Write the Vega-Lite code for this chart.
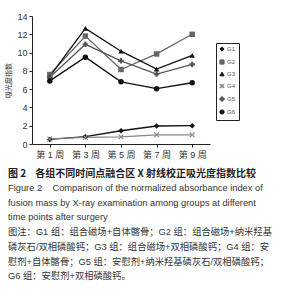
{
  "$schema": "https://vega.github.io/schema/vega-lite/v6.json",
  "width": 178,
  "height": 128,
  "autosize": {"type": "none"},
  "padding": {"left": 32, "top": 16, "right": 93, "bottom": 156},
  "background": "white",
  "config": {
    "view": {"stroke": null},
    "axis": {"grid": false, "domainColor": "#222", "tickColor": "#222", "labelColor": "#333", "labelFont": "Liberation Sans, Noto Sans CJK SC", "labelFontSize": 9, "tickSize": 3},
    "legend": {"rowPadding": 3, "labelFontSize": 6, "symbolSize": 18, "padding": 3, "labelOffset": 2}
  },
  "title": {
    "text": "图 2\u00a0\u00a0\u00a0\u00a0各组不同时间点融合区 X 射线校正吸光度指数比较",
    "orient": "bottom",
    "anchor": "start",
    "frame": "group",
    "align": "left",
    "dx": -24,
    "offset": 10,
    "font": "Noto Sans CJK SC",
    "fontSize": 10,
    "fontWeight": "bold",
    "color": "#222",
    "subtitle": [
      "Figure 2\u00a0\u00a0\u00a0\u00a0Comparison of the normalized absorbance index of",
      "fusion mass by X-ray examination among groups at different",
      "time points after surgery",
      "图注：G1 组：组合磁场+自体髂骨；G2 组：组合磁场+纳米羟基",
      "磷灰石/双相磷酸钙；G3 组：组合磁场+双相磷酸钙；G4 组：安",
      "慰剂+自体髂骨；G5 组：安慰剂+纳米羟基磷灰石/双相磷酸钙；",
      "G6 组：安慰剂+双相磷酸钙。"
    ],
    "subtitleFont": "Liberation Sans, Noto Sans CJK SC",
    "subtitleFontSize": 9.3,
    "subtitleColor": "#333",
    "subtitleLineHeight": 14.7,
    "subtitlePadding": 5
  },
  "data": {
    "values": [
      {"week": "第 1 周", "group": "G1", "value": 0.5},
      {"week": "第 3 周", "group": "G1", "value": 0.8},
      {"week": "第 5 周", "group": "G1", "value": 1.45},
      {"week": "第 7 周", "group": "G1", "value": 1.97},
      {"week": "第 9 周", "group": "G1", "value": 2.0},
      {"week": "第 1 周", "group": "G2", "value": 7.6},
      {"week": "第 3 周", "group": "G2", "value": 11.8},
      {"week": "第 5 周", "group": "G2", "value": 8.15},
      {"week": "第 7 周", "group": "G2", "value": 9.85},
      {"week": "第 9 周", "group": "G2", "value": 12.0},
      {"week": "第 1 周", "group": "G3", "value": 7.4},
      {"week": "第 3 周", "group": "G3", "value": 12.65},
      {"week": "第 5 周", "group": "G3", "value": 10.15},
      {"week": "第 7 周", "group": "G3", "value": 8.2},
      {"week": "第 9 周", "group": "G3", "value": 9.7},
      {"week": "第 1 周", "group": "G4", "value": 0.55},
      {"week": "第 3 周", "group": "G4", "value": 0.72},
      {"week": "第 5 周", "group": "G4", "value": 0.78},
      {"week": "第 7 周", "group": "G4", "value": 1.0},
      {"week": "第 9 周", "group": "G4", "value": 1.0},
      {"week": "第 1 周", "group": "G5", "value": 7.3},
      {"week": "第 3 周", "group": "G5", "value": 10.9},
      {"week": "第 5 周", "group": "G5", "value": 9.1},
      {"week": "第 7 周", "group": "G5", "value": 7.65},
      {"week": "第 9 周", "group": "G5", "value": 8.7},
      {"week": "第 1 周", "group": "G6", "value": 6.9},
      {"week": "第 3 周", "group": "G6", "value": 9.5},
      {"week": "第 5 周", "group": "G6", "value": 6.8},
      {"week": "第 7 周", "group": "G6", "value": 6.05},
      {"week": "第 9 周", "group": "G6", "value": 6.7}
    ]
  },
  "encoding": {
    "x": {
      "field": "week", "type": "ordinal",
      "sort": ["第 1 周", "第 3 周", "第 5 周", "第 7 周", "第 9 周"],
      "scale": {"type": "point", "padding": 0.5},
      "axis": {"title": null, "labelAngle": 0, "labelPadding": 3}
    },
    "y": {
      "field": "value", "type": "quantitative",
      "scale": {"domain": [0, 14], "nice": false},
      "axis": {"values": [0, 2, 4, 6, 8, 10, 12, 14], "title": "吸光度指数", "titleFont": "Noto Sans CJK SC", "titleFontSize": 7, "titleFontWeight": "normal", "titleColor": "#333", "titlePadding": 5, "labelPadding": 2}
    },
    "color": {
      "field": "group", "type": "nominal",
      "scale": {"domain": ["G1", "G2", "G3", "G4", "G5", "G6"], "range": ["#111111", "#666666", "#111111", "#888888", "#555555", "#111111"]},
      "legend": {
        "orient": "none", "legendX": 184, "legendY": 27,
        "title": null, "strokeColor": "#222", "padding": 3,
        "labelFontSize": 6, "labelColor": "#555", "symbolSize": 18, "rowPadding": 3,
        "labelOffset": 2, "symbolStrokeWidth": 1
      }
    }
  },
  "layer": [
    {"mark": {"type": "line", "strokeWidth": 1.3}},
    {
      "mark": {"type": "point", "filled": true, "opacity": 1, "size": 30},
      "encoding": {
        "shape": {
          "field": "group", "type": "nominal",
          "scale": {"domain": ["G1", "G2", "G3", "G4", "G5", "G6"], "range": ["diamond", "square", "triangle-up", "M-1,-0.7L-0.7,-1L0,-0.3L0.7,-1L1,-0.7L0.3,0L1,0.7L0.7,1L0,0.3L-0.7,1L-1,0.7L-0.3,0Z", "cross", "circle"]}
        }
      }
    }
  ]
}
